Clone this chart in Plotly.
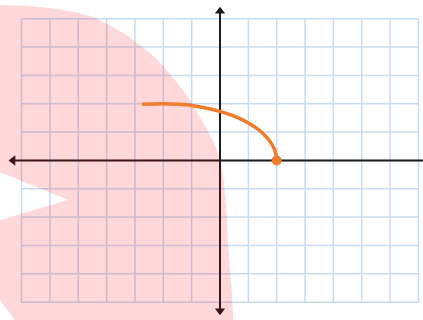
import plotly.graph_objects as go

# grid ticks (unit squares)
grid_x = list(range(-7, 8))
grid_y = list(range(-5, 6))

# orange curve
curve_x = [-2.75, -2.0, -1.5, -1.0, -0.5, 0.0, 0.5, 1.0, 1.5, 1.8, 1.95, 2.0]
curve_y = [1.98, 2.0, 1.98, 1.94, 1.85, 1.73, 1.56, 1.32, 0.97, 0.62, 0.31, 0.0]
end_x = [2.0]
end_y = [0.0]

# pink background blob outline (arc on the right, mouth on the left)
blob_x = [-7.95, -7.76, -7.05, -6.35, -5.64, -4.94, -4.41, -3.99, -3.53, -3.17, -2.82,
          -2.47, -2.22, -2.01, -1.66, -1.31, -0.99, -0.71, -0.46, -0.25, -0.11,
          0.0, 0.11, 0.18, 0.25, 0.28, 0.35, 0.42, 0.49,
          -6.98, -7.95, -7.95, -5.36, -7.95, -7.95]
blob_y = [5.49, 5.49, 5.47, 5.41, 5.33, 5.2, 5.03, 4.81, 4.57, 4.34, 4.07,
          3.79, 3.56, 3.34, 2.93, 2.49, 2.03, 1.53, 1.09, 0.72, 0.37,
          0.02, -0.55, -1.15, -2.03, -2.91, -3.79, -4.67, -5.98,
          -5.98, -4.67, -2.17, -1.39, -0.34, 5.49]

# axis extents
axis_x = [-7.45, 7.3]
axis_y = [-5.45, 5.41]

grid_color = "#c6dbf1"
axis_color = "#1b1b1b"
orange = "#f07b2b"

fig = go.Figure()

shapes = []
for gx in grid_x:
    shapes.append(dict(type="line", x0=gx, x1=gx, y0=grid_y[0], y1=grid_y[-1],
                       line=dict(color=grid_color, width=1.5), layer="below"))
for gy in grid_y:
    shapes.append(dict(type="line", x0=grid_x[0], x1=grid_x[-1], y0=gy, y1=gy,
                       line=dict(color=grid_color, width=1.5), layer="below"))

# axes
fig.add_trace(go.Scatter(x=[axis_x[0] + 0.2, axis_x[1]], y=[0, 0], mode="lines",
                         line=dict(color=axis_color, width=2), hoverinfo="skip"))
fig.add_trace(go.Scatter(x=[0, 0], y=[axis_y[0] + 0.2, axis_y[1] - 0.2], mode="lines",
                         line=dict(color=axis_color, width=2), hoverinfo="skip"))
fig.add_trace(go.Scatter(x=[axis_x[0] + 0.15, 0, 0],
                         y=[0, axis_y[1] - 0.15, axis_y[0] + 0.15], mode="markers",
                         marker=dict(symbol=["triangle-left", "triangle-up", "triangle-down"],
                                     size=9, color=axis_color, line=dict(width=0)),
                         hoverinfo="skip"))

# pink blob
fig.add_trace(go.Scatter(x=blob_x, y=blob_y, mode="lines", fill="toself",
                         fillcolor="rgba(255,0,0,0.15)", line=dict(width=0),
                         hoverinfo="skip"))

# curve + endpoint
fig.add_trace(go.Scatter(x=curve_x, y=curve_y, mode="lines",
                         line=dict(color=orange, width=3.5, shape="spline"), hoverinfo="skip"))
fig.add_trace(go.Scatter(x=end_x, y=end_y, mode="markers",
                         marker=dict(color=orange, size=10), hoverinfo="skip"))

fig.update_layout(width=423, height=320, margin=dict(l=0, r=0, t=0, b=0),
                  paper_bgcolor="white", plot_bgcolor="white", showlegend=False,
                  shapes=shapes)
fig.update_xaxes(range=[-7.76, 7.16], visible=False, fixedrange=True)
fig.update_yaxes(range=[-5.63, 5.66], visible=False, fixedrange=True)

fig.write_html("out.html", config={"displayModeBar": False},
               post_script="document.body.style.margin='0';document.body.style.overflow='hidden';")
